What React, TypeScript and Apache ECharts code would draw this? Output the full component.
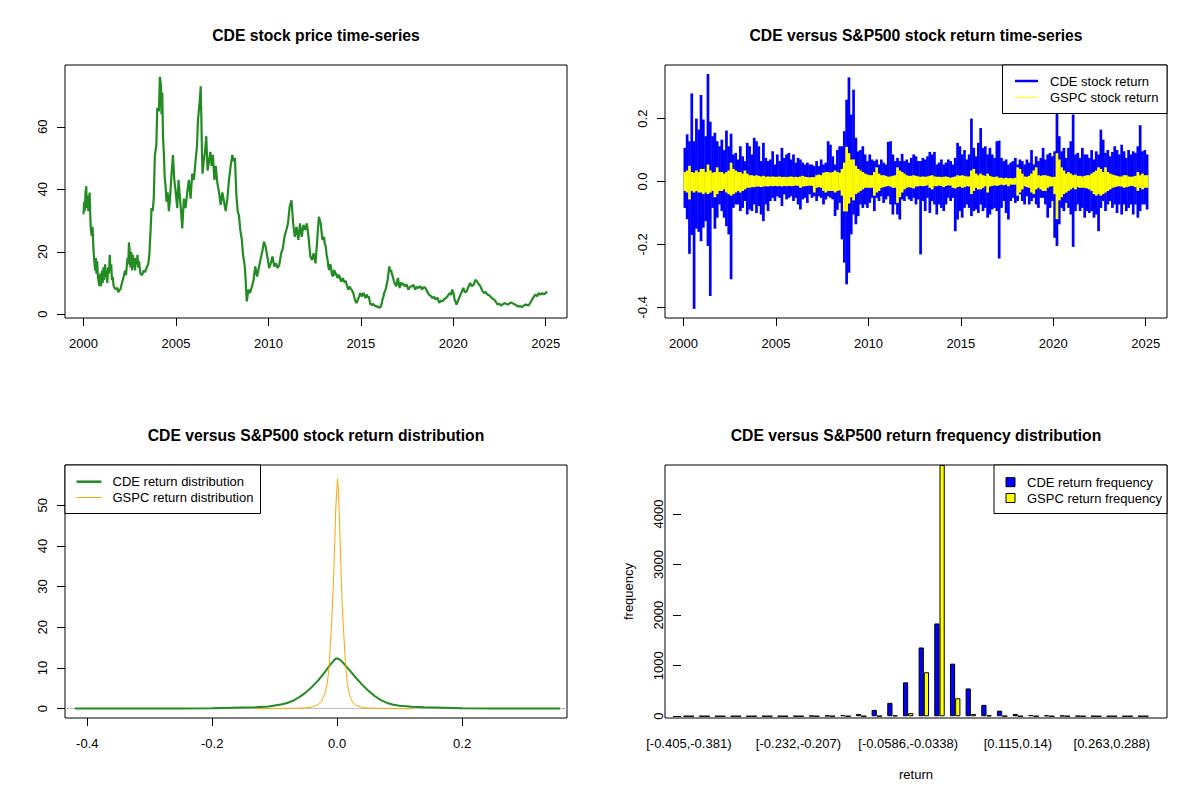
import React, { useEffect, useRef } from "react";
import * as echarts from "echarts";

const FONT = "'Liberation Sans', Arial, Helvetica, sans-serif";

// ---------- tick values ----------
const yearTicks = [2000, 2005, 2010, 2015, 2020, 2025];
const priceTicks = [0, 20, 40, 60];
const returnTicks = [-0.4, -0.2, 0, 0.2];
const densityXTicks = [-0.4, -0.2, 0, 0.2];
const densityYTicks = [0, 10, 20, 30, 40, 50];
const freqTicks = [0, 1000, 2000, 3000, 4000];

// ---------- CDE price [year, price] ----------
const cdePrice = [
  [2000.0, 32], [2000.04, 36], [2000.07, 33], [2000.11, 39], [2000.15, 41], [2000.18, 34], [2000.22, 38], [2000.26, 33],
  [2000.3, 35], [2000.33, 39], [2000.37, 31], [2000.4, 27], [2000.45, 25], [2000.49, 28], [2000.53, 22], [2000.56, 19],
  [2000.6, 16], [2000.63, 14], [2000.67, 18], [2000.7, 13], [2000.74, 17], [2000.78, 12], [2000.83, 10], [2000.87, 9],
  [2000.91, 13], [2000.95, 9], [2001.0, 14], [2001.04, 10], [2001.08, 15], [2001.12, 11], [2001.17, 16], [2001.21, 12],
  [2001.25, 14], [2001.29, 10], [2001.33, 15], [2001.38, 13], [2001.42, 19], [2001.46, 14], [2001.5, 16], [2001.54, 11],
  [2001.58, 12], [2001.63, 9], [2001.67, 8.5], [2001.75, 8], [2001.83, 8.5], [2001.88, 7], [2001.92, 7.5], [2002.0, 8],
  [2002.08, 10], [2002.17, 12], [2002.25, 14], [2002.3, 12.5], [2002.38, 18], [2002.42, 16], [2002.46, 23], [2002.5, 20],
  [2002.54, 15], [2002.58, 20], [2002.63, 14], [2002.67, 19], [2002.71, 15], [2002.75, 18], [2002.79, 14], [2002.83, 18],
  [2002.88, 16], [2002.92, 19], [2002.96, 15], [2003.0, 17], [2003.08, 13], [2003.17, 12.5], [2003.25, 14], [2003.33, 13.5],
  [2003.42, 15], [2003.5, 16], [2003.56, 19], [2003.63, 27], [2003.68, 34], [2003.74, 33], [2003.8, 37], [2003.86, 51],
  [2003.94, 54], [2003.99, 66], [2004.08, 65], [2004.13, 76], [2004.19, 73], [2004.22, 64], [2004.26, 71], [2004.3, 57],
  [2004.35, 51], [2004.39, 44], [2004.44, 41], [2004.49, 36], [2004.55, 39], [2004.62, 33], [2004.68, 37], [2004.75, 44],
  [2004.84, 51], [2004.91, 43], [2004.98, 39.5], [2005.07, 34], [2005.14, 43], [2005.22, 37], [2005.29, 32], [2005.34, 27.5],
  [2005.43, 37], [2005.52, 34], [2005.61, 39], [2005.7, 43], [2005.79, 37], [2005.88, 45], [2005.97, 43], [2006.06, 49],
  [2006.14, 54], [2006.19, 62], [2006.25, 66], [2006.3, 69], [2006.34, 73], [2006.37, 64], [2006.41, 51], [2006.44, 45],
  [2006.5, 49], [2006.57, 52], [2006.64, 57], [2006.71, 46], [2006.79, 49], [2006.86, 52], [2006.93, 47.5], [2007.0, 51],
  [2007.08, 43], [2007.15, 47.5], [2007.24, 42], [2007.33, 39], [2007.42, 35], [2007.51, 39], [2007.6, 36], [2007.69, 33],
  [2007.78, 37], [2007.87, 43], [2007.96, 47.5], [2008.05, 51], [2008.12, 49], [2008.19, 50], [2008.27, 38], [2008.34, 33],
  [2008.41, 31.5], [2008.48, 27], [2008.56, 24], [2008.63, 19], [2008.72, 15.5], [2008.77, 11], [2008.83, 4.1], [2008.92, 7.9],
  [2009.01, 6.8], [2009.11, 8.9], [2009.2, 11], [2009.29, 15.3], [2009.39, 12.1], [2009.48, 14.8], [2009.57, 17.4], [2009.67, 20.1],
  [2009.76, 23.2], [2009.85, 21.7], [2009.94, 18.5], [2010.04, 14.8], [2010.13, 16.3], [2010.22, 18.5], [2010.32, 15.3], [2010.41, 16.3],
  [2010.5, 14.8], [2010.59, 15.8], [2010.69, 19.5], [2010.78, 21.1], [2010.87, 24.8], [2010.97, 27], [2011.06, 29.1], [2011.15, 34.4],
  [2011.25, 36.5], [2011.34, 29.1], [2011.43, 24.8], [2011.52, 28], [2011.62, 23.8], [2011.71, 29.1], [2011.8, 24.8], [2011.9, 28.6],
  [2011.99, 27], [2012.08, 29.1], [2012.17, 24.8], [2012.27, 18.5], [2012.36, 17.4], [2012.45, 19.5], [2012.55, 16.3], [2012.64, 23.8],
  [2012.73, 31.2], [2012.83, 29.1], [2012.92, 23.8], [2013.01, 24.8], [2013.05, 22.5], [2013.1, 21.7], [2013.15, 19.0], [2013.2, 17.4],
  [2013.25, 15.0], [2013.29, 14.2], [2013.34, 16.0], [2013.38, 15.3], [2013.43, 13.0], [2013.48, 12.1], [2013.52, 13.5], [2013.57, 14.2],
  [2013.62, 12.5], [2013.66, 13.2], [2013.71, 12.0], [2013.75, 11.6], [2013.8, 12.6], [2013.85, 12.1], [2013.9, 11.0], [2013.94, 10.5],
  [2013.99, 11.2], [2014.03, 11.6], [2014.08, 10.6], [2014.13, 10.2], [2014.17, 10.8], [2014.22, 9.8], [2014.27, 8.8], [2014.31, 7.9],
  [2014.36, 8.4], [2014.41, 8.9], [2014.45, 8.1], [2014.5, 7.9], [2014.55, 7.3], [2014.59, 6.8], [2014.64, 5.6], [2014.68, 4.7],
  [2014.73, 4.0], [2014.78, 3.6], [2014.82, 4.4], [2014.87, 5.2], [2014.92, 6.0], [2014.96, 6.8], [2015.01, 6.2], [2015.06, 5.7],
  [2015.1, 6.4], [2015.15, 6.8], [2015.2, 6.0], [2015.24, 5.2], [2015.29, 5.8], [2015.33, 6.3], [2015.38, 5.3], [2015.43, 5.7],
  [2015.47, 4.5], [2015.52, 3.1], [2015.57, 3.4], [2015.61, 2.8], [2015.66, 3.3], [2015.71, 3.1], [2015.75, 2.8], [2015.8, 2.5],
  [2015.85, 2.7], [2015.89, 2.3], [2015.94, 2.5], [2015.99, 2.0], [2016.03, 2.2], [2016.08, 2.5], [2016.13, 3.4], [2016.17, 4.7],
  [2016.22, 5.6], [2016.26, 6.8], [2016.31, 7.5], [2016.36, 8.4], [2016.4, 9.5], [2016.45, 11], [2016.5, 13.5], [2016.54, 15.3],
  [2016.59, 13.6], [2016.64, 14.2], [2016.68, 12.8], [2016.73, 12.1], [2016.78, 10.8], [2016.82, 10], [2016.87, 9.5], [2016.91, 8.9],
  [2016.96, 10.5], [2017.01, 11.6], [2017.06, 9.5], [2017.1, 8.4], [2017.15, 10.2], [2017.19, 9.4], [2017.28, 9.9], [2017.38, 8.9],
  [2017.47, 9.6], [2017.57, 7.9], [2017.66, 8.8], [2017.75, 8.9], [2017.85, 9.4], [2017.94, 7.9], [2018.03, 8.8], [2018.12, 8.4],
  [2018.22, 9.0], [2018.31, 7.9], [2018.4, 8.7], [2018.49, 8.4], [2018.58, 7.4], [2018.68, 6.3], [2018.78, 5.9], [2018.87, 5.2],
  [2018.96, 5.6], [2019.05, 4.7], [2019.15, 5.3], [2019.24, 3.6], [2019.33, 4.4], [2019.42, 4.1], [2019.52, 4.9], [2019.61, 5.2],
  [2019.7, 5.9], [2019.8, 6.8], [2019.87, 6.2], [2019.94, 7.9], [2020.02, 6.5], [2020.07, 4.7], [2020.12, 4.0], [2020.17, 3.1],
  [2020.26, 4.3], [2020.35, 5.7], [2020.45, 7.1], [2020.54, 8.4], [2020.63, 7.0], [2020.72, 7.3], [2020.82, 8.8], [2020.91, 10],
  [2021.0, 9.0], [2021.1, 9.4], [2021.19, 11.0], [2021.28, 10.5], [2021.38, 9.6], [2021.47, 8.9], [2021.56, 7.6], [2021.65, 6.8],
  [2021.75, 7.1], [2021.84, 6.3], [2021.94, 6.1], [2022.03, 5.5], [2022.12, 5.0], [2022.21, 4.7], [2022.3, 4.0], [2022.4, 3.1],
  [2022.49, 3.4], [2022.58, 2.8], [2022.68, 3.2], [2022.77, 3.6], [2022.87, 3.3], [2022.96, 3.1], [2023.05, 3.5], [2023.14, 3.8],
  [2023.24, 3.4], [2023.33, 3.1], [2023.42, 2.8], [2023.51, 2.5], [2023.61, 2.6], [2023.7, 2.3], [2023.79, 2.7], [2023.88, 3.1],
  [2023.98, 3.0], [2024.07, 2.8], [2024.16, 3.6], [2024.26, 4.7], [2024.35, 5.6], [2024.44, 6.3], [2024.54, 5.8], [2024.63, 6.8],
  [2024.72, 6.2], [2024.81, 6.8], [2024.9, 6.4], [2025.0, 6.8], [2025.07, 7.3],
];

// ---------- daily return envelopes, sampled every 1/8 year from 2000.0 ----------
const RET_START = 2000;
const RET_STEP = 0.125;
const cdeRetHi = [
  0.107, 0.15, 0.128, 0.28, 0.128, 0.2, 0.165, 0.275, // 2000
  0.197, 0.144, 0.342, 0.19, 0.144, 0.155, 0.128, 0.112, // 2001
  0.133, 0.1, 0.162, 0.112, 0.152, 0.086, 0.091, 0.07, // 2002
  0.112, 0.08, 0.065, 0.123, 0.112, 0.086, 0.139, 0.128, // 2003
  0.112, 0.065, 0.123, 0.075, 0.065, 0.07, 0.096, 0.054, // 2004
  0.086, 0.065, 0.107, 0.075, 0.086, 0.091, 0.07, 0.086, // 2005
  0.06, 0.075, 0.07, 0.06, 0.054, 0.06, 0.054, 0.054, // 2006
  0.049, 0.065, 0.049, 0.07, 0.054, 0.06, 0.128, 0.117, // 2007
  0.08, 0.054, 0.1, 0.112, 0.112, 0.16, 0.26, 0.331, // 2008
  0.213, 0.292, 0.139, 0.096, 0.1, 0.112, 0.086, 0.065, // 2009
  0.086, 0.07, 0.065, 0.07, 0.054, 0.07, 0.06, 0.054, // 2010
  0.126, 0.128, 0.086, 0.065, 0.075, 0.065, 0.088, 0.065, // 2011
  0.07, 0.06, 0.075, 0.086, 0.08, 0.065, 0.065, 0.075, // 2012
  0.07, 0.08, 0.094, 0.086, 0.094, 0.054, 0.06, 0.07, // 2013
  0.054, 0.06, 0.07, 0.065, 0.054, 0.075, 0.123, 0.112, // 2014
  0.086, 0.1, 0.07, 0.086, 0.2, 0.107, 0.08, 0.123, // 2015
  0.17, 0.107, 0.112, 0.086, 0.107, 0.086, 0.075, 0.128, // 2016
  0.13, 0.075, 0.065, 0.07, 0.054, 0.06, 0.065, 0.075, // 2017
  0.054, 0.07, 0.065, 0.054, 0.07, 0.06, 0.1, 0.054, // 2018
  0.08, 0.065, 0.075, 0.107, 0.07, 0.086, 0.091, 0.08, // 2019
  0.096, 0.215, 0.144, 0.096, 0.107, 0.075, 0.107, 0.128, // 2020
  0.213, 0.086, 0.091, 0.075, 0.107, 0.086, 0.086, 0.075, // 2021
  0.1, 0.07, 0.096, 0.086, 0.165, 0.133, 0.091, 0.1, // 2022
  0.08, 0.094, 0.112, 0.1, 0.086, 0.117, 0.096, 0.075, // 2023
  0.1, 0.086, 0.096, 0.091, 0.112, 0.179, 0.096, 0.1, // 2024
  0.086, // 2025
];
const cdeRetLo = [
  -0.084, -0.12, -0.23, -0.17, -0.405, -0.15, -0.16, -0.19, // 2000
  -0.147, -0.126, -0.205, -0.364, -0.084, -0.15, -0.115, -0.073, // 2001
  -0.094, -0.115, -0.142, -0.168, -0.311, -0.084, -0.073, -0.073, // 2002
  -0.094, -0.084, -0.062, -0.105, -0.089, -0.094, -0.073, -0.1, // 2003
  -0.078, -0.105, -0.126, -0.073, -0.094, -0.062, -0.052, -0.062, // 2004
  -0.047, -0.052, -0.078, -0.041, -0.057, -0.052, -0.047, -0.062, // 2005
  -0.052, -0.073, -0.089, -0.057, -0.052, -0.068, -0.041, -0.052, // 2006
  -0.047, -0.062, -0.047, -0.052, -0.073, -0.057, -0.047, -0.052, // 2007
  -0.057, -0.11, -0.09, -0.068, -0.184, -0.258, -0.327, -0.29, // 2008
  -0.168, -0.105, -0.136, -0.11, -0.073, -0.084, -0.073, -0.084, // 2009
  -0.068, -0.052, -0.094, -0.052, -0.062, -0.047, -0.068, -0.057, // 2010
  -0.047, -0.073, -0.105, -0.073, -0.105, -0.121, -0.057, -0.062, // 2011
  -0.047, -0.057, -0.062, -0.052, -0.073, -0.057, -0.232, -0.062, // 2012
  -0.094, -0.052, -0.1, -0.062, -0.073, -0.105, -0.073, -0.084, // 2013
  -0.094, -0.073, -0.052, -0.062, -0.052, -0.158, -0.121, -0.094, // 2014
  -0.115, -0.084, -0.073, -0.084, -0.11, -0.094, -0.089, -0.1, // 2015
  -0.073, -0.094, -0.084, -0.115, -0.105, -0.089, -0.084, -0.094, // 2016
  -0.245, -0.084, -0.062, -0.1, -0.121, -0.062, -0.052, -0.068, // 2017
  -0.062, -0.041, -0.062, -0.073, -0.047, -0.073, -0.062, -0.052, // 2018
  -0.073, -0.084, -0.052, -0.052, -0.073, -0.115, -0.084, -0.062, // 2019
  -0.179, -0.205, -0.136, -0.084, -0.094, -0.068, -0.084, -0.105, // 2020
  -0.208, -0.094, -0.073, -0.094, -0.084, -0.115, -0.094, -0.1, // 2021
  -0.094, -0.115, -0.105, -0.158, -0.084, -0.062, -0.094, -0.073, // 2022
  -0.062, -0.084, -0.073, -0.1, -0.073, -0.105, -0.073, -0.094, // 2023
  -0.084, -0.073, -0.105, -0.073, -0.115, -0.094, -0.073, -0.073, // 2024
  -0.089, // 2025
];
const gspcRetHi = [
  0.03, 0.035, 0.05, 0.03, 0.028, 0.035, 0.03, 0.04, // 2000
  0.04, 0.03, 0.054, 0.035, 0.028, 0.03, 0.045, 0.03, // 2001
  0.03, 0.025, 0.03, 0.035, 0.06, 0.04, 0.035, 0.03, // 2002
  0.03, 0.025, 0.035, 0.025, 0.02, 0.02, 0.018, 0.02, // 2003
  0.018, 0.016, 0.018, 0.015, 0.016, 0.015, 0.016, 0.015, // 2004
  0.015, 0.016, 0.014, 0.015, 0.014, 0.015, 0.016, 0.014, // 2005
  0.015, 0.014, 0.016, 0.018, 0.015, 0.014, 0.013, 0.014, // 2006
  0.014, 0.02, 0.022, 0.02, 0.028, 0.03, 0.03, 0.028, // 2007
  0.03, 0.035, 0.03, 0.028, 0.04, 0.06, 0.11, 0.09, // 2008
  0.07, 0.07, 0.05, 0.04, 0.035, 0.03, 0.025, 0.022, // 2009
  0.02, 0.02, 0.03, 0.045, 0.025, 0.02, 0.02, 0.018, // 2010
  0.015, 0.016, 0.018, 0.02, 0.045, 0.035, 0.03, 0.025, // 2011
  0.02, 0.018, 0.018, 0.02, 0.018, 0.016, 0.015, 0.016, // 2012
  0.015, 0.016, 0.018, 0.02, 0.016, 0.015, 0.015, 0.014, // 2013
  0.015, 0.016, 0.014, 0.012, 0.014, 0.016, 0.02, 0.018, // 2014
  0.02, 0.018, 0.016, 0.016, 0.035, 0.04, 0.025, 0.02, // 2015
  0.025, 0.02, 0.018, 0.025, 0.018, 0.015, 0.014, 0.016, // 2016
  0.012, 0.012, 0.01, 0.012, 0.01, 0.011, 0.01, 0.012, // 2017
  0.045, 0.04, 0.025, 0.016, 0.015, 0.018, 0.025, 0.035, // 2018
  0.045, 0.02, 0.018, 0.02, 0.02, 0.018, 0.016, 0.014, // 2019
  0.015, 0.09, 0.07, 0.045, 0.035, 0.025, 0.03, 0.025, // 2020
  0.02, 0.022, 0.018, 0.018, 0.016, 0.018, 0.02, 0.02, // 2021
  0.025, 0.03, 0.035, 0.045, 0.04, 0.03, 0.045, 0.03, // 2022
  0.025, 0.022, 0.02, 0.018, 0.016, 0.016, 0.02, 0.02, // 2023
  0.016, 0.015, 0.016, 0.018, 0.03, 0.02, 0.025, 0.02, // 2024
  0.02, // 2025
];
const gspcRetLo = [
  -0.03, -0.035, -0.057, -0.03, -0.035, -0.03, -0.035, -0.035, // 2000
  -0.04, -0.035, -0.04, -0.035, -0.03, -0.05, -0.04, -0.03, // 2001
  -0.03, -0.025, -0.035, -0.04, -0.045, -0.04, -0.035, -0.03, // 2002
  -0.035, -0.03, -0.025, -0.02, -0.02, -0.018, -0.018, -0.016, // 2003
  -0.016, -0.018, -0.016, -0.015, -0.016, -0.014, -0.015, -0.014, // 2004
  -0.015, -0.014, -0.016, -0.014, -0.015, -0.014, -0.015, -0.014, // 2005
  -0.013, -0.014, -0.02, -0.016, -0.015, -0.014, -0.013, -0.014, // 2006
  -0.035, -0.02, -0.018, -0.02, -0.03, -0.035, -0.03, -0.03, // 2007
  -0.03, -0.035, -0.03, -0.028, -0.045, -0.095, -0.095, -0.07, // 2008
  -0.05, -0.06, -0.04, -0.035, -0.03, -0.025, -0.02, -0.02, // 2009
  -0.02, -0.02, -0.045, -0.035, -0.03, -0.02, -0.018, -0.016, // 2010
  -0.014, -0.016, -0.02, -0.02, -0.068, -0.05, -0.035, -0.025, // 2011
  -0.02, -0.018, -0.02, -0.022, -0.016, -0.015, -0.014, -0.015, // 2012
  -0.014, -0.012, -0.02, -0.025, -0.015, -0.015, -0.013, -0.014, // 2013
  -0.018, -0.014, -0.012, -0.013, -0.02, -0.022, -0.018, -0.016, // 2014
  -0.02, -0.018, -0.015, -0.016, -0.04, -0.03, -0.02, -0.025, // 2015
  -0.025, -0.02, -0.015, -0.035, -0.016, -0.014, -0.012, -0.014, // 2016
  -0.012, -0.01, -0.012, -0.01, -0.015, -0.01, -0.01, -0.01, // 2017
  -0.045, -0.035, -0.025, -0.015, -0.018, -0.02, -0.035, -0.04, // 2018
  -0.025, -0.02, -0.025, -0.03, -0.03, -0.02, -0.016, -0.015, // 2019
  -0.04, -0.12, -0.06, -0.05, -0.04, -0.035, -0.03, -0.025, // 2020
  -0.02, -0.025, -0.018, -0.02, -0.02, -0.02, -0.022, -0.025, // 2021
  -0.03, -0.04, -0.045, -0.04, -0.045, -0.04, -0.035, -0.03, // 2022
  -0.025, -0.02, -0.018, -0.016, -0.015, -0.016, -0.02, -0.018, // 2023
  -0.016, -0.014, -0.015, -0.018, -0.03, -0.02, -0.025, -0.02, // 2024
  -0.02, // 2025
];

// ---------- return densities [return, density] ----------
const cdeDensity = [
  [-0.42, 0.02], [-0.35, 0.03], [-0.25, 0.06], [-0.2, 0.1], [-0.17, 0.2], [-0.15, 0.28], [-0.13, 0.35],
  [-0.11, 0.5], [-0.1, 0.75], [-0.09, 1.0], [-0.08, 1.4], [-0.07, 2.0], [-0.06, 2.9], [-0.05, 4.0],
  [-0.04, 5.4], [-0.03, 7.0], [-0.02, 8.9], [-0.01, 11.0], [-0.003, 12.2], [0.0, 12.35], [0.005, 12.0],
  [0.01, 11.2], [0.02, 9.4], [0.03, 7.6], [0.04, 5.9], [0.05, 4.4], [0.06, 3.1], [0.07, 2.1], [0.08, 1.4],
  [0.09, 0.95], [0.1, 0.7], [0.12, 0.45], [0.14, 0.33], [0.17, 0.25], [0.2, 0.12], [0.25, 0.06], [0.3, 0.04],
  [0.357, 0.02],
];
const gspcDensity = [
  [-0.13, 0.01], [-0.1, 0.04], [-0.08, 0.06], [-0.06, 0.12], [-0.05, 0.2], [-0.04, 0.4], [-0.03, 1.0],
  [-0.025, 1.8], [-0.02, 3.5], [-0.016, 6], [-0.013, 10], [-0.01, 18], [-0.008, 24], [-0.006, 31],
  [-0.004, 40], [-0.002, 50], [0.0005, 56.5], [0.002, 54], [0.004, 45], [0.006, 35], [0.008, 26],
  [0.01, 20], [0.013, 12], [0.016, 6.5], [0.02, 3.2], [0.025, 1.5], [0.03, 0.8], [0.04, 0.3],
  [0.05, 0.15], [0.07, 0.06], [0.1, 0.02], [0.12, 0.01],
];

// ---------- return frequency histogram ----------
const binLabels = [
  "[-0.405,-0.381)", "[-0.381,-0.356)", "[-0.356,-0.331)", "[-0.331,-0.306)", "[-0.306,-0.282)",
  "[-0.282,-0.257)", "[-0.257,-0.232)", "[-0.232,-0.207)", "[-0.207,-0.182)", "[-0.182,-0.158)",
  "[-0.158,-0.133)", "[-0.133,-0.108)", "[-0.108,-0.0834)", "[-0.0834,-0.0586)", "[-0.0586,-0.0338)",
  "[-0.0338,-0.00906)", "[-0.00906,0.0157)", "[0.0157,0.0405)", "[0.0405,0.0652)", "[0.0652,0.09)",
  "[0.09,0.115)", "[0.115,0.14)", "[0.14,0.164)", "[0.164,0.189)", "[0.189,0.214)",
  "[0.214,0.239)", "[0.239,0.263)", "[0.263,0.288)", "[0.288,0.313)", "[0.313,0.338]",
];
const cdeFreq = [1, 0, 1, 1, 0, 1, 2, 1, 8, 12, 22, 45, 125, 265, 670, 1360, 1835, 1040, 550, 225, 110, 45, 25, 18, 12, 3, 2, 1, 0, 1];
const gspcFreq = [0, 0, 0, 0, 0, 0, 0, 0, 0, 0, 0, 1, 4, 15, 60, 870, 4970, 355, 45, 15, 4, 0, 0, 0, 0, 0, 0, 0, 0, 0];
const shownBins = [0, 7, 14, 21, 27];

// ---------- helpers ----------
const BLACK = "#000";

function valueAxis(gridIndex: number, min: number, max: number, ticks: number[], fmt: (v: number) => string, vertical: boolean) {
  return {
    type: "value",
    gridIndex,
    min,
    max,
    axisLine: { show: false, onZero: false },
    axisTick: { show: true, inside: false, length: 8, lineStyle: { color: BLACK, width: 1 }, customValues: ticks },
    axisLabel: {
      show: true,
      customValues: ticks,
      formatter: fmt,
      color: BLACK,
      fontSize: 13,
      fontFamily: FONT,
      margin: vertical ? 16.5 : 19,
      rotate: vertical ? 90 : 0,
    },
    splitLine: { show: false },
  };
}

function returnBand(name: string, lo: number[], hi: number[], color: string) {
  return {
    type: "custom",
    name,
    xAxisIndex: 1,
    yAxisIndex: 1,
    encode: { x: 0, y: [1, 2] },
    data: lo.map((l, i) => [RET_START + i * RET_STEP, l, hi[i]]),
    renderItem: (params: any, api: any) => {
      const t = api.value(0);
      const a = api.coord([t, api.value(2)]);
      const b = api.coord([t + RET_STEP, api.value(1)]);
      return {
        type: "rect",
        shape: { x: a[0], y: a[1], width: b[0] - a[0] + 0.4, height: b[1] - a[1] },
        style: { fill: color },
      };
    },
  };
}

const gridBase = { show: true, borderColor: BLACK, borderWidth: 1, backgroundColor: "transparent", containLabel: false, outerBoundsMode: "none" };

function txt(text: string, x: number, y: number, opts: any = {}) {
  return {
    type: "text",
    x,
    y,
    z: 100,
    style: {
      text,
      fill: BLACK,
      fontSize: opts.fontSize || 13,
      fontWeight: opts.fontWeight || "normal",
      fontFamily: FONT,
      align: opts.align || "left",
      verticalAlign: "middle",
    },
  };
}

function box(x: number, y: number, w: number, h: number, fill: string) {
  return { type: "rect", z: 100, shape: { x, y, width: w, height: h }, style: { fill, stroke: BLACK, lineWidth: 1 } };
}

function hline(x1: number, x2: number, y: number, color: string, width: number) {
  return { type: "line", z: 101, shape: { x1, y1: y, x2, y2: y }, style: { stroke: color, lineWidth: width } };
}

const TITLE = { fontSize: 15.7, fontWeight: "bold", align: "center" };

const option: any = {
  animation: false,
  textStyle: { fontFamily: FONT },
  grid: [
    { ...gridBase, left: 65, top: 65, width: 502, height: 253 },
    { ...gridBase, left: 665, top: 65, width: 502, height: 253 },
    { ...gridBase, left: 65, top: 465, width: 502, height: 253 },
    { ...gridBase, show: false, left: 681, top: 465, width: 470, height: 253 },
  ],
  xAxis: [
    valueAxis(0, 1999.0, 2026.15, yearTicks, (v) => String(v), false),
    valueAxis(1, 1999.0, 2026.15, yearTicks, (v) => String(v), false),
    valueAxis(2, -0.4357, 0.368, densityXTicks, (v) => v.toFixed(1), false),
    {
      type: "category",
      gridIndex: 3,
      data: binLabels,
      axisLine: { show: false, onZero: false },
      axisTick: { show: false },
      axisLabel: {
        interval: (index: number) => shownBins.indexOf(index) >= 0,
        color: BLACK,
        fontSize: 13,
        fontFamily: FONT,
        margin: 19,
      },
      splitLine: { show: false },
      name: "return",
      nameLocation: "middle",
      nameGap: 50,
      nameTextStyle: { color: BLACK, fontSize: 13, fontFamily: FONT },
    },
  ],
  yAxis: [
    valueAxis(0, -1.2, 79.8, priceTicks, (v) => String(v), true),
    valueAxis(1, -0.434, 0.3704, returnTicks, (v) => v.toFixed(1), true),
    valueAxis(2, -2.3, 59.9, densityYTicks, (v) => String(v), true),
    {
      ...valueAxis(3, -35, 4970, freqTicks, (v) => String(v), true),
      name: "frequency",
      nameLocation: "middle",
      nameGap: 46.5,
      nameRotate: 90,
      nameTextStyle: { color: BLACK, fontSize: 13, fontFamily: FONT },
    },
  ],
  series: [
    {
      type: "line",
      name: "CDE price",
      xAxisIndex: 0,
      yAxisIndex: 0,
      data: cdePrice,
      symbol: "none",
      lineStyle: { color: "#228B22", width: 2.2 },
      itemStyle: { color: "#228B22" },
    },
    returnBand("CDE stock return", cdeRetLo, cdeRetHi, "#0000FF"),
    returnBand("GSPC stock return", gspcRetLo, gspcRetHi, "#FFFF00"),
    {
      type: "line",
      name: "CDE return distribution",
      xAxisIndex: 2,
      yAxisIndex: 2,
      data: cdeDensity,
      symbol: "none",
      lineStyle: { color: "#228B22", width: 2 },
      itemStyle: { color: "#228B22" },
      z: 3,
      markLine: {
        silent: true,
        symbol: ["none", "none"],
        label: { show: false },
        lineStyle: { color: "#BEBEBE", type: "solid", width: 1 },
        data: [{ yAxis: 0 }],
        z: 1,
      },
    },
    {
      type: "line",
      name: "GSPC return distribution",
      xAxisIndex: 2,
      yAxisIndex: 2,
      data: gspcDensity,
      symbol: "none",
      lineStyle: { color: "#FFA500", width: 1 },
      itemStyle: { color: "#FFA500" },
      z: 4,
    },
    {
      type: "bar",
      name: "CDE return frequency",
      xAxisIndex: 3,
      yAxisIndex: 3,
      data: cdeFreq,
      barGap: "0%",
      barCategoryGap: "33.33%",
      itemStyle: { color: "#0000FF", borderColor: BLACK, borderWidth: 1 },
    },
    {
      type: "bar",
      name: "GSPC return frequency",
      xAxisIndex: 3,
      yAxisIndex: 3,
      data: gspcFreq,
      barGap: "0%",
      barCategoryGap: "33.33%",
      itemStyle: { color: "#FFFF00", borderColor: BLACK, borderWidth: 1 },
    },
  ],
  graphic: [
    txt("CDE stock price time-series", 316, 35, TITLE),
    txt("CDE versus S&P500 stock return time-series", 916, 35, TITLE),
    txt("CDE versus S&P500 stock return distribution", 316, 435, TITLE),
    txt("CDE versus S&P500 return frequency distribution", 916, 435, TITLE),
    // histogram plot box
    { type: "rect", z: 100, shape: { x: 665, y: 465, width: 502, height: 253 }, style: { fill: "none", stroke: BLACK, lineWidth: 1 } },
    // legend: returns
    box(1002.5, 65, 164.5, 48.5, "#fff"),
    hline(1015, 1038, 81, "#0000FF", 2.5),
    hline(1015, 1038, 97.3, "#FFFF00", 1),
    txt("CDE stock return", 1050, 81),
    txt("GSPC stock return", 1050, 97.3),
    // legend: densities
    box(65, 465, 195.5, 48.5, "#fff"),
    hline(76.5, 101.5, 481.7, "#228B22", 2.5),
    hline(76.5, 101.5, 497.5, "#FFA500", 1),
    txt("CDE return distribution", 112.5, 481.7),
    txt("GSPC return distribution", 112.5, 497.5),
    // legend: histogram
    box(994, 465, 173, 48.5, "#fff"),
    box(1006, 477.7, 9, 9, "#0000FF"),
    box(1006, 493.5, 9, 9, "#FFFF00"),
    txt("CDE return frequency", 1027, 482),
    txt("GSPC return frequency", 1027, 498),
  ],
};

export default function App() {
  const ref = useRef<HTMLDivElement>(null);
  useEffect(() => {
    document.body.style.margin = "0";
    const chart = echarts.init(ref.current as HTMLDivElement, null, { renderer: "svg" });
    chart.setOption(option);
    return () => chart.dispose();
  }, []);
  return <div ref={ref} style={{ width: 1200, height: 800 }} />;
}
